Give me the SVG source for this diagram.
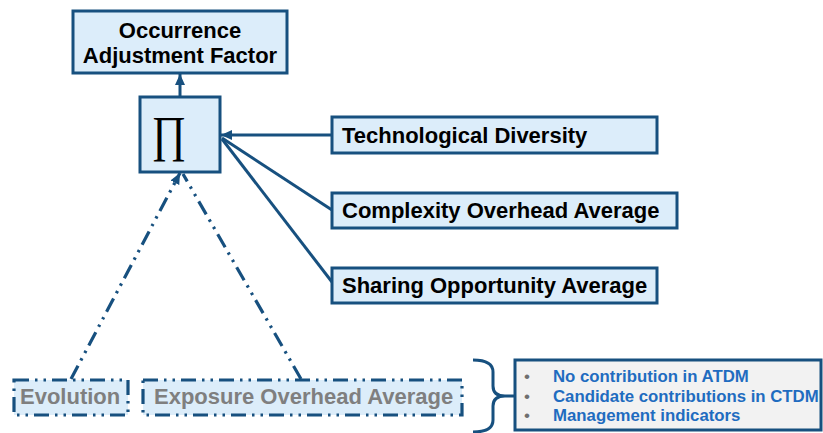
<svg xmlns="http://www.w3.org/2000/svg" width="823" height="433" viewBox="0 0 823 433">
<defs>
<style>
.box{fill:#dcedfa;stroke:#17507f;stroke-width:3}
.t{font-family:"Liberation Sans",Arial,sans-serif;font-weight:bold;font-size:22px;fill:#000}
.g{font-family:"Liberation Sans",Arial,sans-serif;font-weight:bold;font-size:22px;fill:#7f7f7f}
.b{font-family:"Liberation Sans",Arial,sans-serif;font-weight:bold;font-size:16.8px;fill:#1f6cc0}
.bul{font-family:"Liberation Sans",Arial,sans-serif;font-size:17px;fill:#6f6f6f}
.ln{fill:none;stroke:#17507f;stroke-width:3}
.dd{fill:none;stroke:#17507f;stroke-width:3.2;stroke-dasharray:15 6 2.5 6 2.5 6}
.dbox{fill:#dcedfa;stroke:#17507f;stroke-width:3.2;stroke-dasharray:15 6 2.5 6 2.5 6}
</style>
<marker id="ah" viewBox="0 0 11 10" refX="11" refY="5" markerWidth="11" markerHeight="10" markerUnits="userSpaceOnUse" orient="auto">
<path d="M0,0 L11,5 L0,10 z" fill="#17507f"/>
</marker>
</defs>
<g id="connectors">
<line class="ln" x1="180" y1="96" x2="180" y2="74" marker-end="url(#ah)"/>
<line class="ln" x1="332" y1="135" x2="221" y2="135" marker-end="url(#ah)"/>
<line class="ln" x1="332" y1="210" x2="222" y2="138"/>
<line class="ln" x1="332" y1="282" x2="222" y2="139"/>
<line class="dd" x1="71" y1="379" x2="180" y2="173" marker-end="url(#ah)"/>
<line class="dd" x1="301" y1="379" x2="183" y2="174"/>
<path class="ln" d="M473,360 Q493,360 493,372 L493,386 Q493,396 505,396 L515,396 M505,396 Q493,396 493,406 L493,420 Q493,432 473,432"/>
</g>
<g id="occurrence">
<rect class="box" x="73" y="11" width="214" height="62"/>
<text class="t" x="180" y="38" text-anchor="middle">Occurrence</text>
<text class="t" x="180" y="63" text-anchor="middle">Adjustment Factor</text>
</g>
<g id="product">
<rect class="box" x="140" y="97" width="80" height="75"/>
<text x="0" y="0" transform="translate(169,151) scale(0.85,1)" text-anchor="middle" font-family="'Liberation Serif','DejaVu Serif',serif" font-size="50" fill="#000">∏</text>
</g>
<g id="tech">
<rect class="box" x="332" y="117" width="325" height="36"/>
<text class="t" x="342" y="143">Technological Diversity</text>
</g>
<g id="complexity">
<rect class="box" x="332" y="193" width="345" height="35"/>
<text class="t" x="342" y="218">Complexity Overhead Average</text>
</g>
<g id="sharing">
<rect class="box" x="332" y="268" width="325" height="35"/>
<text class="t" x="342" y="293">Sharing Opportunity Average</text>
</g>
<g id="evolution">
<rect class="dbox" x="14" y="380" width="114" height="35"/>
<text class="g" x="20" y="404">Evolution</text>
</g>
<g id="exposure">
<rect class="dbox" x="143" y="380" width="319" height="35"/>
<text class="g" x="154" y="404">Exposure Overhead Average</text>
</g>
<g id="info">
<rect x="515" y="360" width="306" height="70" fill="#f2f2f2" stroke="#17507f" stroke-width="3"/>
<text class="bul" x="524" y="382">•</text>
<text class="bul" x="524" y="402">•</text>
<text class="bul" x="524" y="421">•</text>
<text class="b" x="553" y="382">No contribution in ATDM</text>
<text class="b" x="553" y="402">Candidate contributions in CTDM</text>
<text class="b" x="553" y="421">Management indicators</text>
</g>
</svg>
